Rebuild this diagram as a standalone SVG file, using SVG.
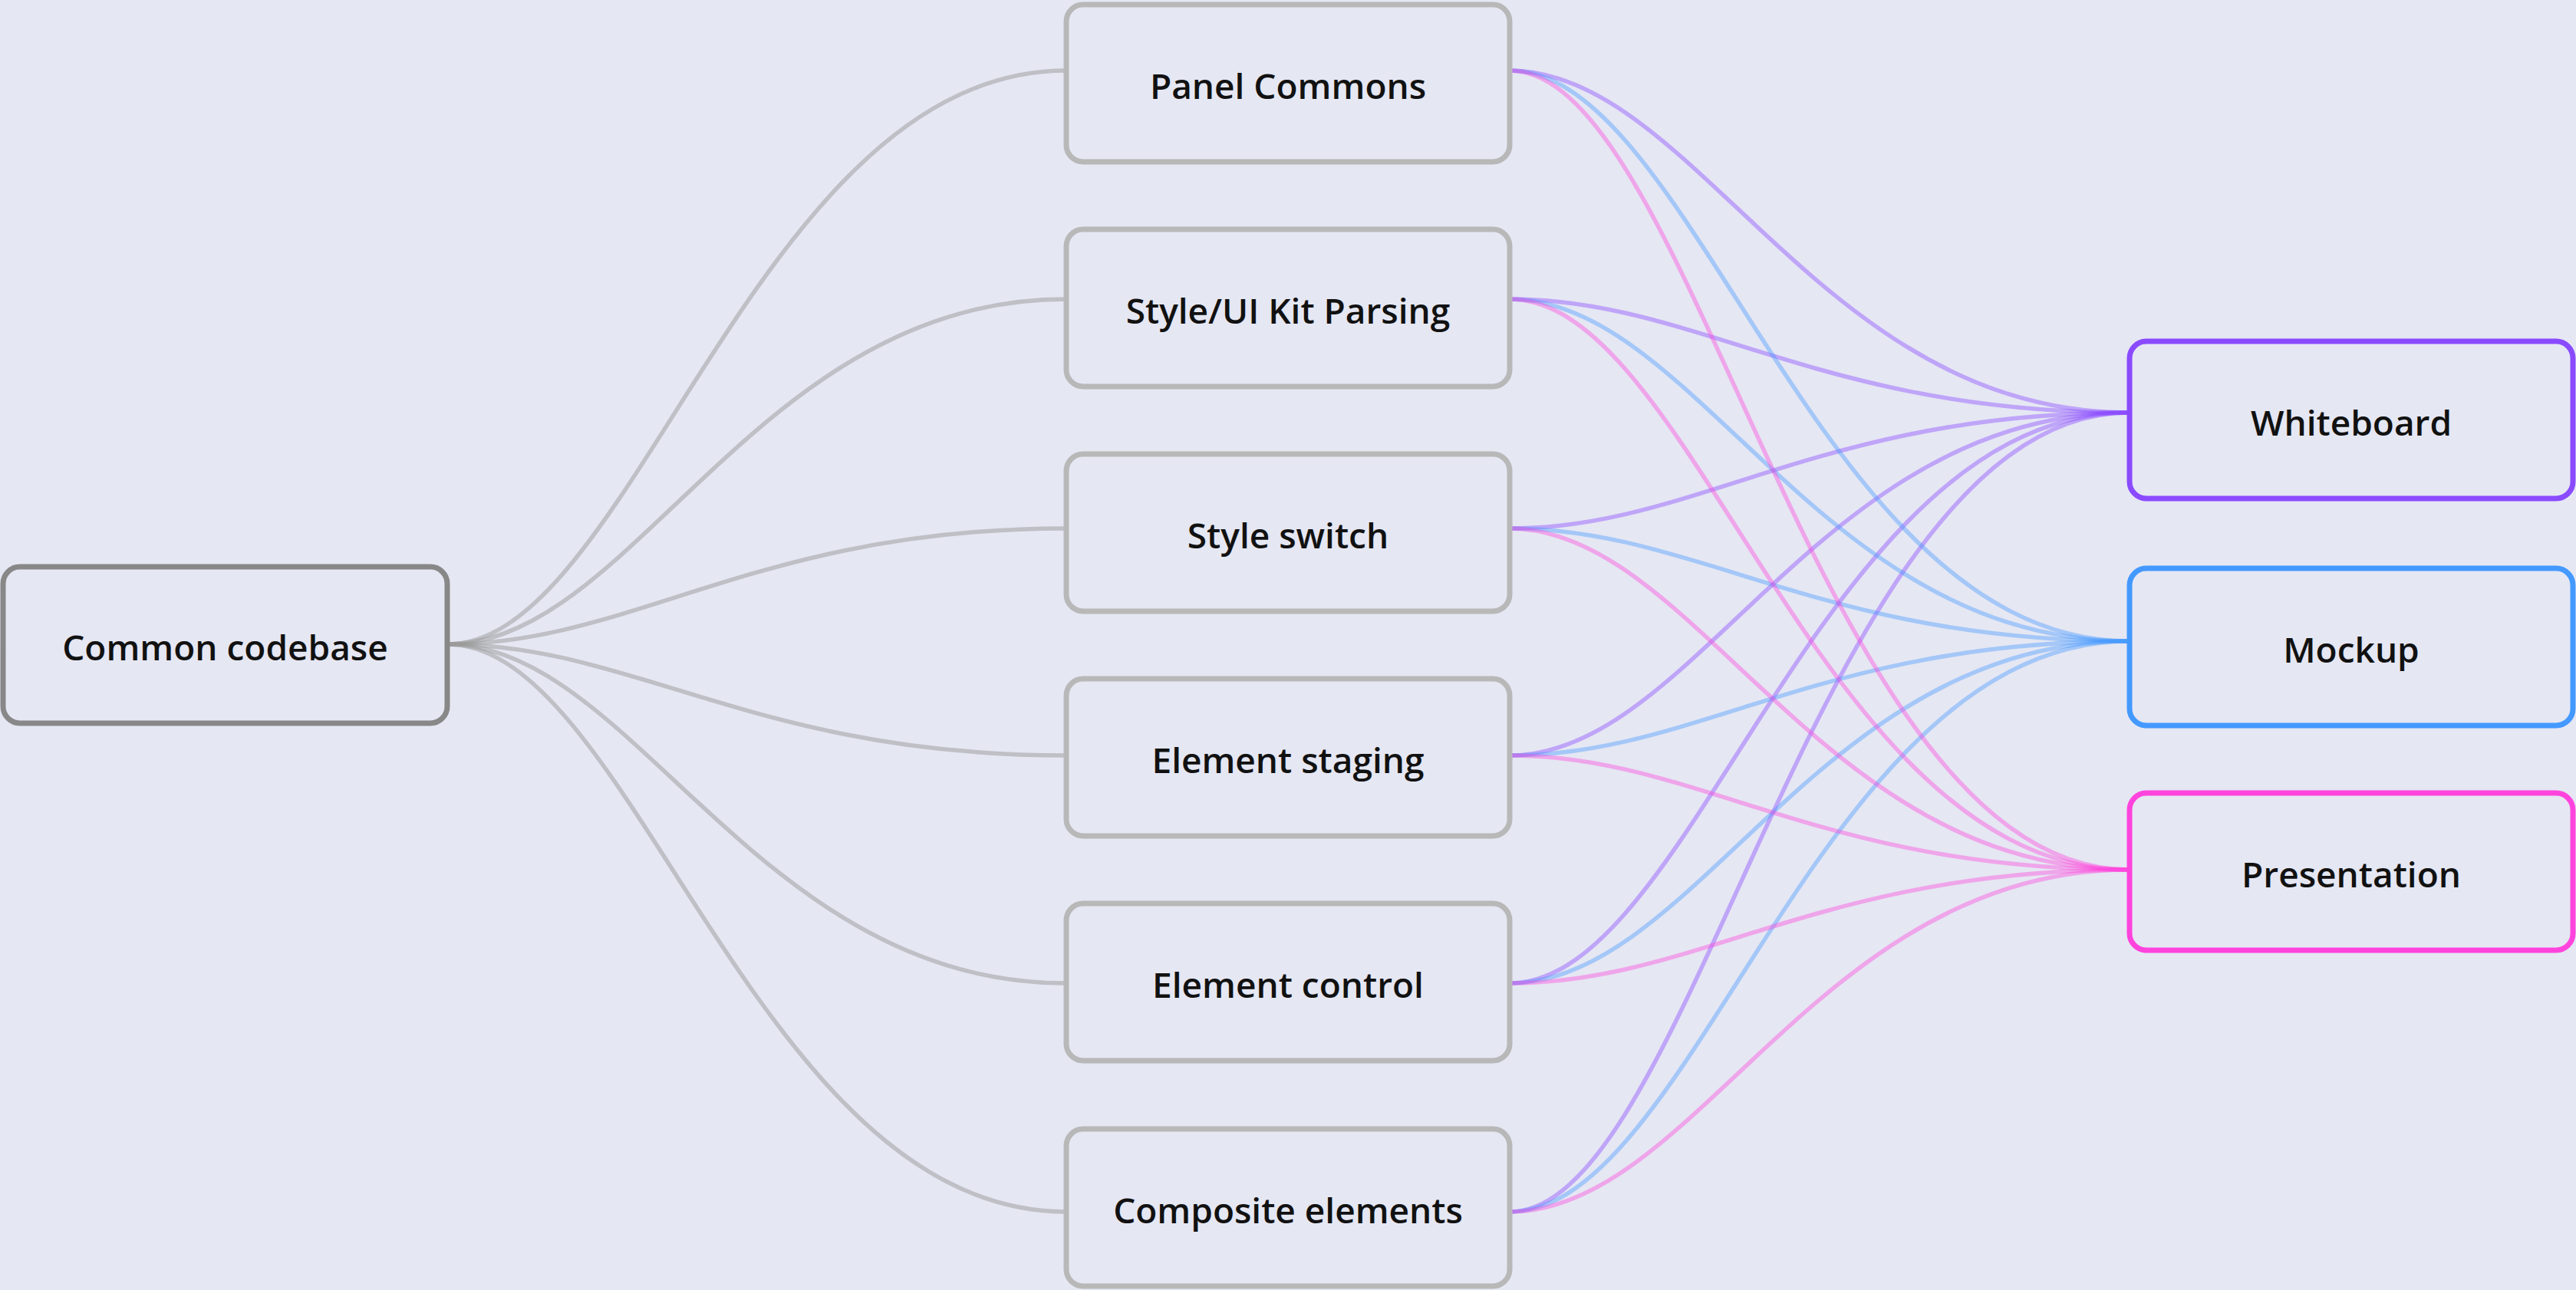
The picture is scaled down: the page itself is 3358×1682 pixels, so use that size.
<svg xmlns="http://www.w3.org/2000/svg" width="3358" height="1682" viewBox="0 0 3358 1682">
<style>
.bg{fill:#e5e7f3}
.box{fill:#e5e7f3;stroke-width:7}
.mid{stroke:#b8b8b8}
.src{stroke:#888888}
.wb{stroke:#8a4bff}
.mk{stroke:#4499ff}
.pr{stroke:#ff44dd}
.lbl{font-family:"Open Sans","Noto Sans",sans-serif;font-weight:600;font-size:46px;fill:#111111;text-anchor:middle;dominant-baseline:central}
.e{fill:none;stroke-width:5.5;stroke-linecap:round}
.eg{stroke:#9a9a9a;stroke-opacity:0.5}
.ep{stroke:#8a4bff;stroke-opacity:0.42}
.eb{stroke:#4499ff;stroke-opacity:0.4}
.ek{stroke:#ff44dd;stroke-opacity:0.4}
</style>
<rect class="bg" x="0" y="0" width="3358" height="1682"/>
<g id="connectors">
<path class="e eg" d="M583 840 C825 840 986 92 1390 92"/>
<path class="e eg" d="M583 840 C825 840 986 390 1390 390"/>
<path class="e eg" d="M583 840 C825 840 986 689 1390 689"/>
<path class="e eg" d="M583 840 C825 840 986 985 1390 985"/>
<path class="e eg" d="M583 840 C825 840 986 1282 1390 1282"/>
<path class="e eg" d="M583 840 C825 840 986 1580 1390 1580"/>
<path class="e ep" d="M1968 92 C2210 92 2372 538 2776 538"/>
<path class="e ep" d="M1968 390 C2210 390 2372 538 2776 538"/>
<path class="e ep" d="M1968 689 C2210 689 2372 538 2776 538"/>
<path class="e ep" d="M1968 985 C2210 985 2372 538 2776 538"/>
<path class="e ep" d="M1968 1282 C2210 1282 2372 538 2776 538"/>
<path class="e ep" d="M1968 1580 C2210 1580 2372 538 2776 538"/>
<path class="e eb" d="M1968 92 C2210 92 2372 836 2776 836"/>
<path class="e eb" d="M1968 390 C2210 390 2372 836 2776 836"/>
<path class="e eb" d="M1968 689 C2210 689 2372 836 2776 836"/>
<path class="e eb" d="M1968 985 C2210 985 2372 836 2776 836"/>
<path class="e eb" d="M1968 1282 C2210 1282 2372 836 2776 836"/>
<path class="e eb" d="M1968 1580 C2210 1580 2372 836 2776 836"/>
<path class="e ek" d="M1968 92 C2210 92 2372 1134 2776 1134"/>
<path class="e ek" d="M1968 390 C2210 390 2372 1134 2776 1134"/>
<path class="e ek" d="M1968 689 C2210 689 2372 1134 2776 1134"/>
<path class="e ek" d="M1968 985 C2210 985 2372 1134 2776 1134"/>
<path class="e ek" d="M1968 1282 C2210 1282 2372 1134 2776 1134"/>
<path class="e ek" d="M1968 1580 C2210 1580 2372 1134 2776 1134"/>
</g>
<g id="common-codebase"><rect class="box src" x="4" y="739" width="579" height="204" rx="22"/><text class="lbl" x="293.5" y="843">Common codebase</text></g>
<g id="panel-commons"><rect class="box mid" x="1390" y="6" width="578" height="205" rx="22"/><text class="lbl" x="1679" y="110.5">Panel Commons</text></g>
<g id="style-ui-kit-parsing"><rect class="box mid" x="1390" y="299" width="578" height="205" rx="22"/><text class="lbl" x="1679" y="403.5">Style/UI Kit Parsing</text></g>
<g id="style-switch"><rect class="box mid" x="1390" y="592" width="578" height="205" rx="22"/><text class="lbl" x="1679" y="696.5">Style switch</text></g>
<g id="element-staging"><rect class="box mid" x="1390" y="885" width="578" height="205" rx="22"/><text class="lbl" x="1679" y="989.5">Element staging</text></g>
<g id="element-control"><rect class="box mid" x="1390" y="1178" width="578" height="205" rx="22"/><text class="lbl" x="1679" y="1282.5">Element control</text></g>
<g id="composite-elements"><rect class="box mid" x="1390" y="1472" width="578" height="205" rx="22"/><text class="lbl" x="1679" y="1576.5">Composite elements</text></g>
<g id="whiteboard"><rect class="box wb" x="2776" y="445" width="578" height="205" rx="22"/><text class="lbl" x="3065" y="549.5">Whiteboard</text></g>
<g id="mockup"><rect class="box mk" x="2776" y="741" width="578" height="205" rx="22"/><text class="lbl" x="3065" y="845.5">Mockup</text></g>
<g id="presentation"><rect class="box pr" x="2776" y="1034" width="578" height="205" rx="22"/><text class="lbl" x="3065" y="1138.5">Presentation</text></g>
</svg>
